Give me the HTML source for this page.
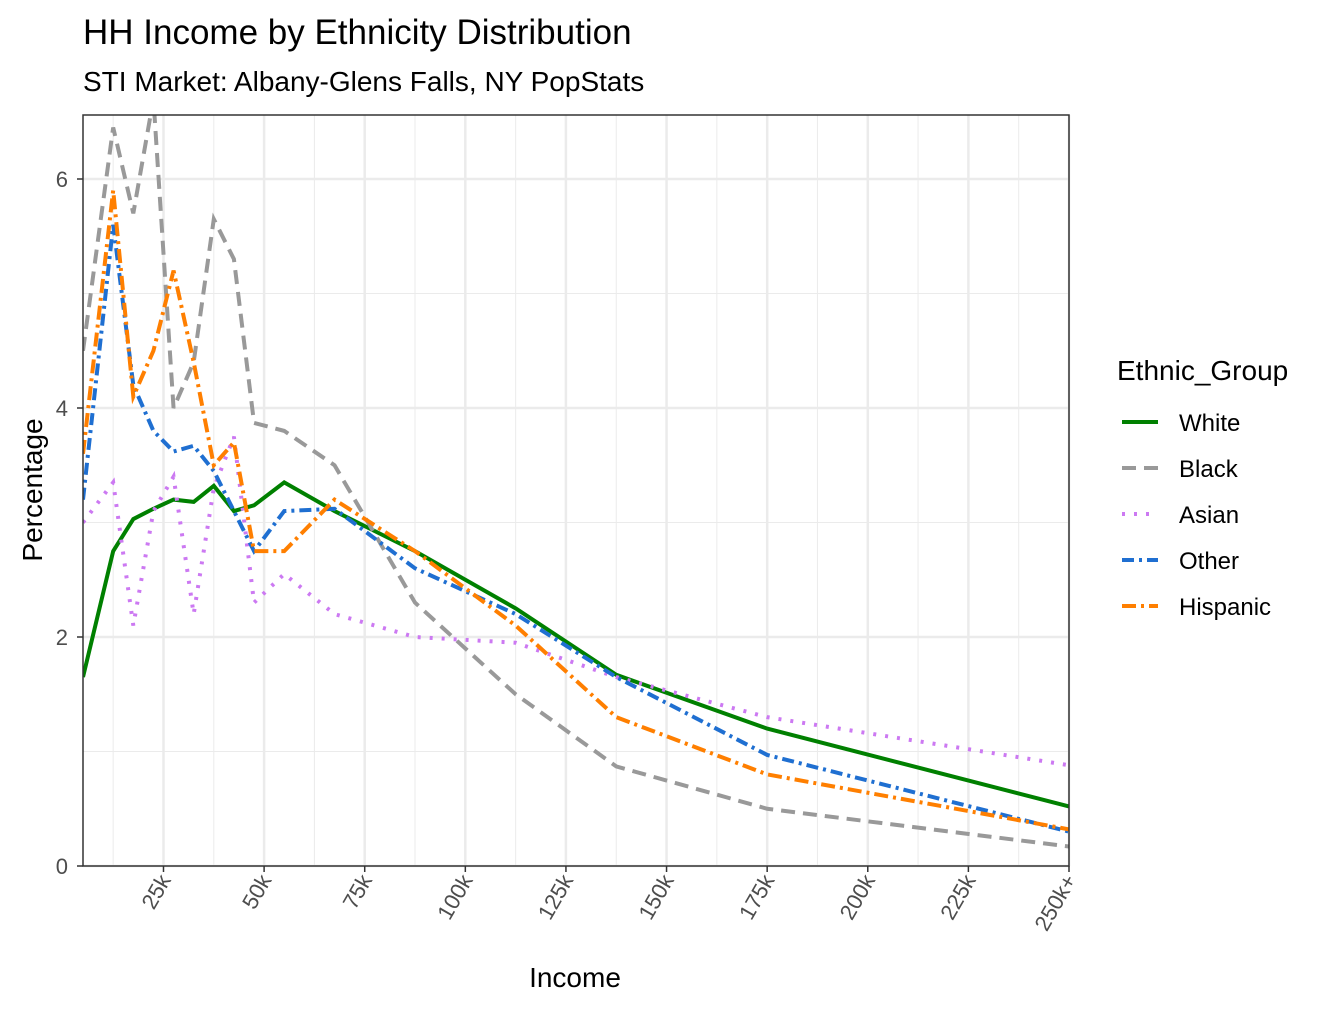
<!DOCTYPE html>
<html><head><meta charset="utf-8"><style>
body{margin:0;background:#fff;font-family:"Liberation Sans",Arial,sans-serif}
svg text{font-family:"Liberation Sans",Arial,sans-serif}
</style></head><body>
<svg id="chart" width="1344" height="1008">
<text x="83" y="44" font-size="35" fill="#000">HH Income by Ethnicity Distribution</text>
<text x="83" y="91" font-size="28" fill="#000">STI Market: Albany-Glens Falls, NY PopStats</text>
<g id="grid"></g>
<g id="series" clip-path="url(#clip)"></g>
<defs><clipPath id="clip"><rect x="83" y="115" width="986" height="751"/></clipPath></defs>
<rect x="83" y="115" width="986" height="751" fill="none" stroke="#333" stroke-width="1.5"/>
<g id="axes"></g>
<text x="575" y="987" font-size="28" text-anchor="middle">Income</text>
<text transform="translate(42,490) rotate(-90)" font-size="28" text-anchor="middle">Percentage</text>
<g id="legend"></g>
</svg>
<script>
const incomes=[5,12.5,17.5,22.5,27.5,32.5,37.5,42.5,47.5,55,67.5,87.5,112.5,137.5,175,250];
const white=[1.65,2.75,3.03,3.12,3.2,3.18,3.32,3.1,3.15,3.35,3.1,2.75,2.25,1.67,1.2,0.52];
const black=[4.5,6.45,5.7,6.7,4.0,4.4,5.65,5.3,3.87,3.8,3.5,2.3,1.5,0.87,0.5,0.17];
const asian=[3.0,3.35,2.1,3.1,3.4,2.2,3.3,3.75,2.3,2.55,2.2,2.0,1.95,1.65,1.3,0.88];
const other=[3.2,5.6,4.2,3.8,3.62,3.67,3.45,3.1,2.75,3.1,3.12,2.6,2.2,1.65,0.97,0.3];
const hispanic=[3.6,5.9,4.1,4.5,5.2,4.4,3.5,3.7,2.75,2.75,3.2,2.75,2.1,1.3,0.8,0.32];
const xTicks=[25,50,75,100,125,150,175,200,225,250];
const xTickLabels=["25k","50k","75k","100k","125k","150k","175k","200k","225k","250k+"];
const yTicks=[0,2,4,6];
const names=["White","Black","Asian","Other","Hispanic"];
const NS="http://www.w3.org/2000/svg";
const X=v=>83+(v-5)*986/245;
const Y=v=>866-v*114.5;
function mk(tag,attrs,parent){const e=document.createElementNS(NS,tag);for(const k in attrs)e.setAttribute(k,attrs[k]);parent.appendChild(e);return e;}
const grid=document.getElementById('grid'),axes=document.getElementById('axes'),ser=document.getElementById('series'),leg=document.getElementById('legend');
for(let v=1;v<=5;v+=2){const l=mk('line',{x1:83,x2:1069,y1:Y(v),y2:Y(v),stroke:'#ebebeb','stroke-width':1},grid);

}
for(let v=12.5;v<250;v+=25){const l=mk('line',{x1:X(v),x2:X(v),y1:115,y2:866,stroke:'#ebebeb','stroke-width':1},grid);

}
yTicks.forEach(v=>{const l=mk('line',{x1:83,x2:1069,y1:Y(v),y2:Y(v),stroke:'#ebebeb','stroke-width':2.5},grid);


const t=mk('text',{x:68,y:Y(v)+8,'font-size':22,'text-anchor':'end',fill:'#4d4d4d'},axes);t.textContent=v;


mk('line',{x1:77,x2:83,y1:Y(v),y2:Y(v),stroke:'#333','stroke-width':1.5},axes);});
xTicks.forEach((v,i)=>{const l=mk('line',{x1:X(v),x2:X(v),y1:115,y2:866,stroke:'#ebebeb','stroke-width':2.5},grid);


mk('line',{x1:X(v),x2:X(v),y1:866,y2:872,stroke:'#333','stroke-width':1.5},axes);
const t=mk('text',{transform:`translate(${X(v)+8},${880}) rotate(-60)`,'font-size':22,'text-anchor':'end',fill:'#4d4d4d'},axes);t.textContent=xTickLabels[i];

});
const styles=[{c:'#008000',d:''},{c:'#999999',d:'14,8'},{c:'#cc79f2',d:'3,9'},{c:'#1f6fd1',d:'12,5,3,5'},{c:'#ff7f00',d:'14,5,3,5'}];
const data=[white,black,asian,other,hispanic];
data.forEach((arr,i)=>{const p=mk('polyline',{points:arr.map((v,j)=>X(incomes[j])+','+Y(v)).join(' '),fill:'none',stroke:styles[i].c,'stroke-width':4,'stroke-dasharray':styles[i].d},ser);

});
const lt=mk('text',{x:1117,y:380,'font-size':28},leg);lt.textContent='Ethnic_Group';


names.forEach((n,i)=>{const y=422+i*46;
const g=mk('g',{},leg);


mk('line',{x1:1122,x2:1158,y1:y,y2:y,stroke:styles[i].c,'stroke-width':4,'stroke-dasharray':styles[i].d},g);
const t=mk('text',{x:1179,y:y+9,'font-size':24},g);t.textContent=n;});
</script>
</body></html>
